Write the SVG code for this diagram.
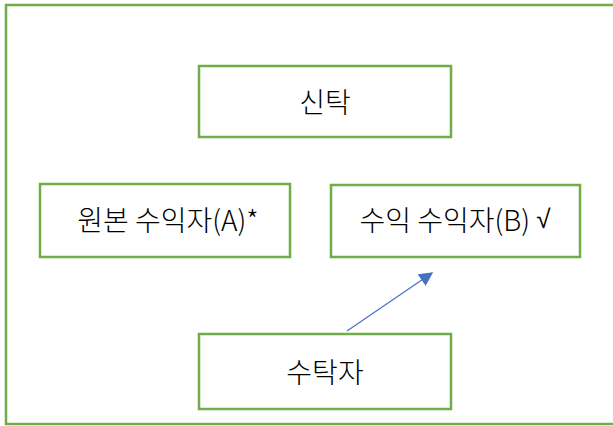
<svg xmlns="http://www.w3.org/2000/svg" width="613" height="426" viewBox="0 0 613 426">
<style>
.box{fill:#fff;stroke:#70AD47;stroke-width:2.5}
.t{font-family:"Malgun Gothic","Noto Sans CJK KR","Noto Sans",sans-serif;font-size:28px;font-weight:300;fill:#000;text-anchor:middle;dominant-baseline:central}
.c{stroke:#4472C4;stroke-width:1.2;fill:none}
</style>
<defs>
<marker id="ah" viewBox="0 0 10 10" refX="9" refY="5" markerWidth="14" markerHeight="14" markerUnits="userSpaceOnUse" orient="auto">
<path d="M0,0 L10,5 L0,10 z" fill="#4472C4"/>
</marker>
</defs>
<rect width="613" height="426" fill="#fff"/>
<g id="frame"><rect x="6" y="5" width="620" height="419" class="box"/></g>
<g id="n1"><rect x="199" y="66" width="252" height="71" class="box"/><text x="325" y="101" class="t">신탁</text></g>
<g id="n2"><rect x="40" y="184" width="250" height="73" class="box"/><text x="168" y="219" class="t">원본 수익자(A)*</text></g>
<g id="n3"><rect x="331" y="185" width="249" height="72" class="box"/><text x="455" y="219" class="t">수익 수익자(B) <tspan font-family="DejaVu Sans,sans-serif" font-size="26">√</tspan></text></g>
<g id="n4"><rect x="199" y="334" width="252" height="75" class="box"/><text x="325" y="371" class="t">수탁자</text></g>
<g id="connectors"><line x1="347" y1="331" x2="432" y2="273" class="c" marker-end="url(#ah)"/></g>
</svg>
